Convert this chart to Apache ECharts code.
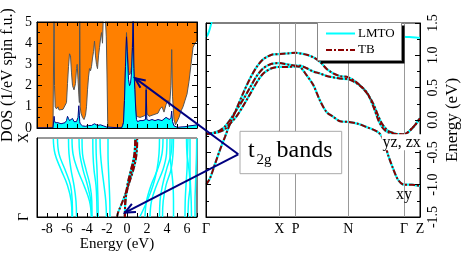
<!DOCTYPE html>
<html><head><meta charset="utf-8">
<script src="https://cdn.jsdelivr.net/npm/echarts@6/dist/echarts.min.js"></script>
<style>html,body{margin:0;padding:0;background:#fff}#c{width:463px;height:253px}</style>
</head><body><div id="c"></div>
<script>
const FONT = 'Liberation Serif';

// ---------- DOS panel (energy in eV, states / eV spin f.u.) ----------
const dosEnergy = [
 -9.00,-7.40,-7.32,-7.29,-7.25,-7.18,-7.05,-6.90,-6.80,-6.60,
 -6.40,-6.20,-6.05,-5.95,-5.85,-5.75,-5.65,-5.55,-5.45,-5.30,
 -5.15,-5.05,-4.98,-4.90,-4.82,-4.76,-4.73,-4.68,-4.60,-4.45,
 -4.30,-4.15,-4.05,-3.95,-3.85,-3.75,-3.65,-3.55,-3.45,-3.35,
 -3.25,-3.15,-3.05,-2.95,-2.85,-2.75,-2.65,-2.55,-2.45,-2.35,
 -2.25,-2.15,-2.07,-2.00,-1.93,-1.90,-0.55,-0.45,-0.35,-0.25,
 -0.15,-0.05, 0.05, 0.15, 0.25, 0.35, 0.45, 0.55, 0.62, 0.68,
  0.78, 0.88, 0.95, 1.05, 1.30, 1.60, 1.85, 1.92, 1.98, 2.20,
  2.50, 2.80, 3.10, 3.30, 3.50, 3.70, 3.90, 4.10, 4.25, 4.40,
  4.47, 4.55, 4.70, 4.85, 5.05, 5.20, 5.40, 5.60, 5.80, 6.00,
  6.20, 6.40, 6.60, 6.80, 7.00];
const dosTotal = [
 0,0,0,6,2.0,1.0,0.9,1.0,0.85,0.85,
 0.88,0.95,1.2,2.1,2.9,3.5,3.4,2.6,2.0,1.8,
 2.1,2.8,3.0,2.3,1.6,1.2,6,1.0,0.7,0.5,
 0.4,0.6,1.0,1.8,2.4,2.8,2.7,2.9,3.3,3.6,
 4.1,3.4,3.0,2.8,3.4,3.8,4.2,4.5,4.0,5.6,
 6.0,6.0,4.3,2.5,0.3,0,0,0.1,0.3,1.5,
 3.1,4.5,3.6,2.7,2.5,2.6,2.9,4.1,6,3.1,
 2.0,0.9,0.55,0.5,0.5,0.55,0.6,1.9,0.7,0.55,
 0.6,0.65,0.7,0.9,1.0,0.75,1.1,1.3,1.0,2.0,
 3.7,1.5,0.4,0.15,0.1,0.5,0.8,1.0,1.3,1.6,
 2.2,3.0,3.8,4.0,4.1];
const dosT2g = [
 0,0,0,0.55,0.35,0.25,0.2,0.25,0.2,0.2,
 0.22,0.25,0.35,0.55,0.45,0.35,0.3,0.35,0.45,0.3,
 0.25,0.3,0.35,0.5,1.05,0.6,0.3,0.2,0.15,0.1,
 0.08,0.08,0.1,0.1,0.12,0.15,0.12,0.12,0.15,0.15,
 0.2,0.15,0.15,0.12,0.12,0.15,0.15,0.12,0.1,0.1,
 0.1,0.08,0.05,0.03,0,0,0,0.1,0.25,1.3,
 2.9,4.3,3.3,2.3,2.0,2.1,2.6,3.8,5.5,2.8,
 1.8,0.8,0.4,0.3,0.35,0.35,0.4,1.8,0.4,0.35,
 0.4,0.35,0.4,0.45,0.35,0.3,0.5,0.55,0.4,0.5,
 0.8,0.3,0.1,0.05,0.03,0.05,0.05,0.05,0.06,0.08,
 0.1,0.1,0.12,0.12,0.15];
const energyTickLabels = [-8,-6,-4,-2,0,2,4,6];

// ---------- band structure along Γ-X-P-N-Γ-Z ----------
const kLabels = ['Γ','X','P','N','Γ','Z'];
const kTicks  = [0, 73.3, 89.7, 142.3, 198, 214];
const kPath = [0,4,9,14,19,24,30.7,37.3,44,50.7,57.3,65.7,73.3,
  81.5,89.7,
  94,100.7,107.3,114,120.7,127.3,134,142.3,
  152.3,160.7,167.3,172.3,175.7,179,182.3,187.3,192.3,198,
  202,206,210,214];
const bandA = [-1.00,-0.90,-0.68,-0.46,-0.26,-0.06,0.18,0.42,0.64,0.82,0.94,1.01,1.02,
  1.03,1.04,
  1.03,1.01,0.97,0.90,0.79,0.72,0.68,0.66,
  0.56,0.42,0.25,0.06,-0.05,-0.12,-0.17,-0.20,-0.22,-0.22,
  -0.19,-0.13,-0.06,0.03];
const bandB = [-0.22,-0.21,-0.19,-0.16,-0.10,0.00,0.16,0.32,0.50,0.68,0.80,0.87,0.88,
  0.86,0.84,
  0.84,0.80,0.75,0.72,0.68,0.66,0.64,0.63,
  0.55,0.43,0.21,0.00,-0.10,-0.16,-0.19,-0.21,-0.22,-0.22,
  -0.19,-0.13,-0.06,0.03];
const bandC = [-0.22,-0.21,-0.20,-0.18,-0.14,-0.06,0.06,0.22,0.40,0.58,0.72,0.80,0.82,
  0.82,0.83,
  0.82,0.69,0.54,0.30,0.12,0.05,-0.02,-0.03,
  -0.06,-0.11,-0.15,-0.19,-0.25,-0.38,-0.55,-0.76,-0.93,-1.00,
  -1.00,-1.00,-1.01,-1.02];
// LMTO band just above the t2g manifold near Γ
const kUpperL = [0,2,4,6,8];
const eUpperL = [1.28,1.33,1.42,1.55,1.70];
const kUpperR = [190,194,198,206,214];
const eUpperR = [1.60,1.40,1.29,1.28,1.27];

// ---------- LMTO bands along Γ-X (lower-left panel), energies at fractional k ----------
const kFrac = [0,0.2,0.4,0.6,0.8,1.0];
const lmtoBandsGX = [
 [-5.50,-5.58,-5.95,-6.60,-7.20,-7.37],
 [-5.45,-5.48,-5.65,-6.20,-6.80,-6.95],
 [-5.05,-5.10,-5.30,-5.60,-5.80,-5.85],
 [-3.55,-3.75,-4.30,-4.95,-5.40,-5.50],
 [-3.55,-3.62,-3.95,-4.40,-4.72,-4.80],
 [-3.50,-3.52,-3.70,-4.10,-4.45,-4.50],
 [-3.00,-3.02,-3.10,-3.30,-3.40,-3.42],
 [-2.88,-2.90,-2.95,-3.00,-3.08,-3.10],
 [-2.05,-2.12,-2.30,-2.50,-2.65,-2.70],
 [-1.70,-1.72,-1.78,-1.85,-1.90,-1.90],
 [1.28,2.00,2.60,3.00,3.20,3.25],
 [1.80,1.95,2.40,3.05,3.50,3.60],
 [2.30,2.45,2.95,3.60,3.95,4.00],
 [3.25,3.30,3.55,3.95,4.40,4.50],
 [3.55,3.62,3.90,4.40,4.60,4.65],
 [4.65,4.65,4.60,4.45,4.30,4.30],
 [5.80,5.82,5.90,6.00,6.05,6.10],
 [6.10,6.15,6.30,6.20,6.00,5.95],
 [6.45,6.42,6.35,6.30,6.30,6.30],
 [6.80,6.80,6.85,6.90,6.95,6.97]
];

// ---------- annotations (data coordinates) ----------
const legendNames = ['LMTO','TB'];
const t2gBox = {k0:34, e0:-0.175, k1:135.7, e1:-0.83};
const arrowFrom = [32.3, -0.53];      // right panel (k, E)
const arrowToDos = [0.8, 2.35];       // DOS panel (E, DOS)
const arrowToBand = [-0.2, 0.056];    // lower-left panel (E, k)
const labelYZ = [195.7, -0.345];
const labelXY = [198, -1.16];

const cyan = '#00ffff', tbRed = '#8b0000', navy = '#000080', orange = '#ff8000';
const tbDash = [6,2,2,2];
const chart = echarts.init(document.getElementById('c'), null, {renderer:'canvas'});

const axisBase = {
  axisLine:{show:true, onZero:false, lineStyle:{color:'#000', width:1}},
  splitLine:{show:false},
  z:5
};
function tickIn(len){ return {show:true, inside:true, length:len, lineStyle:{color:'#000'}}; }
function minorIn(){ return {show:true, splitNumber:2, length:3, lineStyle:{color:'#000'}}; }
const lab = {fontFamily:FONT, color:'#000', fontSize:14};

const series = [];
series.push({type:'line', name:'DOS total', xAxisIndex:0, yAxisIndex:0, symbol:'none',
  data: dosEnergy.map((e,i)=>[e, dosTotal[i]]),
  lineStyle:{color:'#555', width:1}, areaStyle:{color:'#fff', opacity:1}, z:2});
series.push({type:'line', name:'DOS t2g', xAxisIndex:0, yAxisIndex:0, symbol:'none',
  data: dosEnergy.map((e,i)=>[e, dosT2g[i]]),
  lineStyle:{color:navy, width:1}, areaStyle:{color:cyan, opacity:1}, z:3});

// lower-left: LMTO bands
lmtoBandsGX.forEach((b, bi) => {
  const s = {type:'line', name:'LMTO', xAxisIndex:2, yAxisIndex:2, symbol:'none', smooth:0.4,
    data: kFrac.map((k,i)=>[b[i], k]), lineStyle:{color:cyan, width:1.5}, z:2};
  if (bi === 0) s.markLine = {silent:true, symbol:'none', label:{show:false},
    lineStyle:{color:'#999', type:'solid', width:2}, data:[{yAxis:1}]};
  series.push(s);
});
const nGX = kPath.filter(k => k <= kTicks[1] + 1e-6).length;
[bandA, bandB, bandC].forEach(b => {
  const d = kPath.slice(0, nGX).map((k,i)=>[b[i], k / kTicks[1]]);
  series.push({type:'line', name:'LMTO', xAxisIndex:2, yAxisIndex:2, symbol:'none', smooth:0.3,
    data:d, lineStyle:{color:cyan, width:2}, z:3});
  series.push({type:'line', name:'TB', xAxisIndex:2, yAxisIndex:2, symbol:'none', smooth:0.3,
    data:d, lineStyle:{color:tbRed, width:2, type:tbDash}, z:4});
});

// right panel: band structure
series.push({type:'line', name:'LMTO', xAxisIndex:3, yAxisIndex:3, symbol:'none', smooth:0.3,
  data: kUpperL.map((k,i)=>[k, eUpperL[i]]), lineStyle:{color:cyan, width:2}, z:2,
  markLine:{silent:true, symbol:'none', label:{show:false},
    lineStyle:{color:'#999', type:'solid', width:1},
    data: kTicks.slice(1,5).map(k=>({xAxis:k}))}});
series.push({type:'line', name:'LMTO', xAxisIndex:3, yAxisIndex:3, symbol:'none', smooth:0.3,
  data: kUpperR.map((k,i)=>[k, eUpperR[i]]), lineStyle:{color:cyan, width:2}, z:2});
[bandA, bandB, bandC].forEach(b => {
  const d = kPath.map((k,i)=>[k, b[i]]);
  series.push({type:'line', name:'LMTO', xAxisIndex:3, yAxisIndex:3, symbol:'none', smooth:0.3,
    data:d, lineStyle:{color:cyan, width:2.2}, z:3});
  series.push({type:'line', name:'TB', xAxisIndex:3, yAxisIndex:3, symbol:'none', smooth:0.3,
    data:d, lineStyle:{color:tbRed, width:2, type:tbDash}, z:4});
});

function nearestLabel(v){
  let best = 0;
  kTicks.forEach((t,i)=>{ if (Math.abs(t-v) < Math.abs(kTicks[best]-v)) best = i; });
  return kLabels[best];
}

const option = {
  animation:false,
  textStyle:{fontFamily:FONT},
  grid:[
    {left:37, top:22, width:160, height:106, show:true, backgroundColor:orange, borderColor:'#000', borderWidth:1, outerBoundsMode:'none'},
    {left:37, top:138, width:160, height:79, show:true, backgroundColor:'#fff', borderColor:'#000', borderWidth:1, outerBoundsMode:'none'},
    {left:206, top:23, width:214, height:194, show:true, backgroundColor:'#fff', borderColor:'#000', borderWidth:1, outerBoundsMode:'none'}
  ],
  xAxis:[
    Object.assign({gridIndex:0, type:'value', min:-9, max:7, interval:1, position:'bottom',
      axisTick:tickIn(4), axisLabel:{show:false}}, axisBase),
    Object.assign({gridIndex:0, type:'value', min:-9, max:7, interval:1, position:'top',
      axisTick:tickIn(4), axisLabel:{show:false}}, axisBase),
    Object.assign({gridIndex:1, type:'value', min:-9, max:7, interval:1, position:'bottom',
      axisTick:tickIn(4),
      axisLabel:Object.assign({customValues:energyTickLabels, formatter:v=>String(v), margin:5}, lab),
      name:'Energy (eV)', nameLocation:'middle', nameGap:18,
      nameTextStyle:{fontFamily:FONT, fontSize:15, color:'#000'}}, axisBase),
    Object.assign({gridIndex:2, type:'value', min:0, max:214, position:'bottom',
      axisTick:{show:false},
      axisLabel:Object.assign({customValues:kTicks, formatter:v=>nearestLabel(v), margin:5}, lab)}, axisBase)
  ],
  yAxis:[
    Object.assign({gridIndex:0, type:'value', min:0, max:5, interval:1, position:'left',
      axisTick:tickIn(5), minorTick:minorIn(),
      axisLabel:Object.assign({margin:5}, lab),
      name:'DOS (1/eV spin f.u.)', nameLocation:'middle', nameRotate:90, nameGap:21,
      nameTextStyle:{fontFamily:FONT, fontSize:16, color:'#000'}}, axisBase),
    Object.assign({gridIndex:0, type:'value', min:0, max:5, interval:1, position:'right',
      axisTick:tickIn(5), minorTick:minorIn(), axisLabel:{show:false}}, axisBase),
    Object.assign({gridIndex:1, type:'value', min:0, max:1, position:'left',
      axisTick:{show:false},
      axisLabel:Object.assign({customValues:[0,1], formatter:v=>(v<0.5?'Γ':'X'), rotate:90, margin:6}, lab)}, axisBase),
    Object.assign({gridIndex:2, type:'value', min:-1.5, max:1.5, interval:0.5, position:'right',
      axisTick:tickIn(5), minorTick:minorIn(),
      axisLabel:Object.assign({rotate:90, formatter:v=>v.toFixed(1), margin:6}, lab),
      name:'Energy (eV)', nameLocation:'middle', nameRotate:90, nameGap:24,
      nameTextStyle:{fontFamily:FONT, fontSize:17, color:'#000'}}, axisBase),
    Object.assign({gridIndex:2, type:'value', min:-1.5, max:1.5, interval:0.5, position:'left',
      axisTick:tickIn(5), minorTick:minorIn(), axisLabel:{show:false}}, axisBase)
  ],
  series: series
};
chart.setOption(option);

// ---------- annotations, positioned from data coordinates ----------
const G0 = {xAxisIndex:0, yAxisIndex:0};
const G1 = {xAxisIndex:2, yAxisIndex:2};
const G2 = {xAxisIndex:3, yAxisIndex:3};
const p = (f, v) => chart.convertToPixel(f, v);
const bTL = p(G2, [t2gBox.k0, t2gBox.e0]);
const bBR = p(G2, [t2gBox.k1, t2gBox.e1]);
const aFrom = p(G2, arrowFrom);
const aDos = p(G0, arrowToDos);
const aBand = p(G1, arrowToBand);
const pYZ = p(G2, labelYZ);
const pXY = p(G2, labelXY);

function arrowEls(from, to){
  const ang = Math.atan2(to[1]-from[1], to[0]-from[0]);
  const L = 11, a = 0.42;
  const h1 = [to[0]-L*Math.cos(ang-a), to[1]-L*Math.sin(ang-a)];
  const h2 = [to[0]-L*Math.cos(ang+a), to[1]-L*Math.sin(ang+a)];
  return [
    {type:'line', z:12, shape:{x1:from[0], y1:from[1], x2:to[0], y2:to[1]}, style:{stroke:navy, lineWidth:2}},
    {type:'polyline', z:12, shape:{points:[h1, to, h2]}, style:{stroke:navy, lineWidth:2, fill:null}}
  ];
}

const bx = bTL[0], by = bTL[1];
const graphic = [
  // legend box with shadow
  {type:'rect', z:20, shape:{x:320.5, y:25.5, width:84, height:38}, style:{fill:'#000'}},
  {type:'rect', z:21, shape:{x:317.5, y:22.5, width:84, height:38}, style:{fill:'#fff', stroke:'#888', lineWidth:1}},
  {type:'line', z:22, shape:{x1:326, y1:33.5, x2:355, y2:33.5}, style:{stroke:cyan, lineWidth:2}},
  {type:'text', z:22, style:{x:358, y:33.5, text:legendNames[0], font:'13px "Liberation Serif"', fill:'#000', verticalAlign:'middle'}},
  {type:'line', z:22, shape:{x1:326, y1:50, x2:355, y2:50}, style:{stroke:tbRed, lineWidth:2, lineDash:tbDash}},
  {type:'text', z:22, style:{x:358, y:50, text:legendNames[1], font:'13px "Liberation Serif"', fill:'#000', verticalAlign:'middle'}},
  // t2g box
  {type:'rect', z:10, shape:{x:bx, y:by, width:bBR[0]-bx, height:bBR[1]-by}, style:{fill:'#fff', stroke:'#aaa', lineWidth:1}},
  {type:'text', z:11, style:{x:bx+8, y:by+19, text:'t', font:'24px "Liberation Serif"', fill:'#000', verticalAlign:'middle'}},
  {type:'text', z:11, style:{x:bx+16.5, y:by+28.4, text:'2g', font:'15px "Liberation Serif"', fill:'#000', verticalAlign:'middle'}},
  {type:'text', z:11, style:{x:bx+36.5, y:by+19, text:'bands', font:'24px "Liberation Serif"', fill:'#000', verticalAlign:'middle'}},
  // band character labels
  {type:'text', z:10, style:{x:pYZ[0], y:pYZ[1], text:'yz, zx', font:'16px "Liberation Serif"', fill:'#000',
    align:'center', verticalAlign:'middle', backgroundColor:'#fff', padding:[0,1]}},
  {type:'text', z:10, style:{x:pXY[0], y:pXY[1], text:'xy', font:'16px "Liberation Serif"', fill:'#000',
    align:'center', verticalAlign:'middle'}}
].concat(arrowEls(aFrom, aDos), arrowEls(aFrom, aBand));
chart.setOption({graphic: graphic});
</script>
</body></html>
